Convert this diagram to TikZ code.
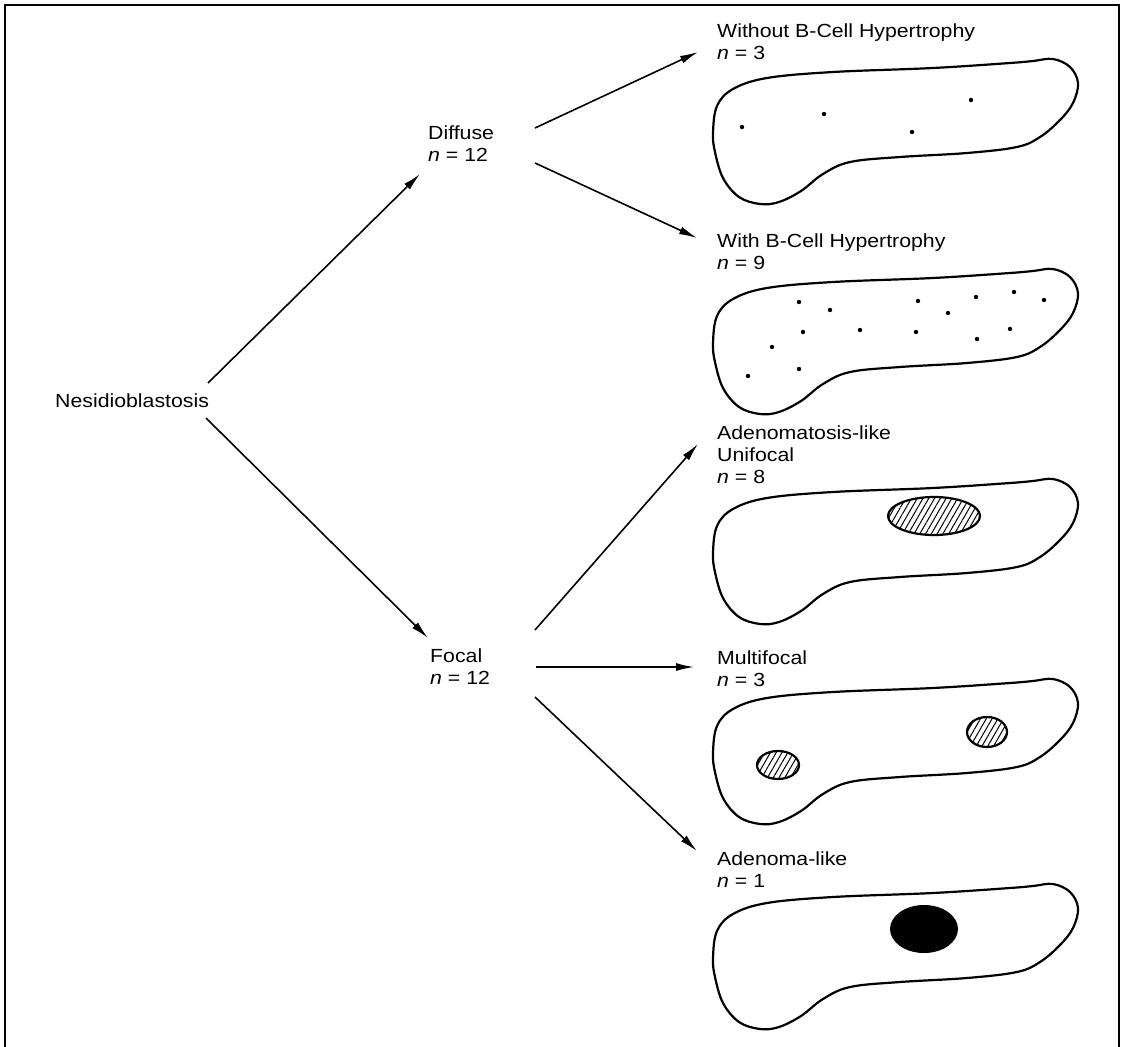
\documentclass[tikz,border=0pt]{standalone}
\usepackage{fontspec}
\setmainfont{Liberation Sans}[FakeStretch=1.12]
\usetikzlibrary{arrows.meta,patterns.meta}

\tikzset{
  lbl/.style={anchor=north west, inner sep=0pt, align=left,
              font=\fontsize{19}{22}\selectfont},
  arr/.style={line width=1.6pt, -{Latex[length=18pt,width=8pt]}},
  organ/.style={line width=2.2pt},
  frame/.style={line width=2pt},
  hatch/.style={organ, fill=white,
    pattern={Lines[angle=60,distance=5pt,line width=1pt]}},
  islet/.style={fill=black},
  pancreas/.pic={
    \draw[organ] plot[smooth cycle, tension=0.6] coordinates {
      (0,73) (4,46) (20,29) (54,18) (120,12) (220,8) (297,3)
      (320,1) (340,-1) (357,7) (365,23) (360,43) (347,60) (327,77)
      (304,87) (254,93) (187,97) (137,102) (110,114) (88,131)
      (66,142) (47,144) (26,137) (10,118) (2,92)};
  }
}

\begin{document}
\begin{tikzpicture}[x=1pt,y=-1pt]
\useasboundingbox (0,0) rectangle (1122,1047);

% open frame: top, left and right sides
\draw[frame] (5,1047) -- (5,5) -- (1119,5) -- (1119,1047);

% labels
\node[lbl] (nes) at (55,394) {Nesidioblastosis};
\node[lbl] (dif) at (428,126) {Diffuse\\{\itshape n} = 12};
\node[lbl] (foc) at (430,649) {Focal\\{\itshape n} = 12};
\node[lbl] (wo)  at (717,24)  {Without B-Cell Hypertrophy\\{\itshape n} = 3};
\node[lbl] (wi)  at (717,234) {With B-Cell Hypertrophy\\{\itshape n} = 9};
\node[lbl] (uni) at (717,426) {Adenomatosis-like\\Unifocal\\{\itshape n} = 8};
\node[lbl] (mul) at (717,651) {Multifocal\\{\itshape n} = 3};
\node[lbl] (ade) at (717,852) {Adenoma-like\\{\itshape n} = 1};

% arrow end points
\coordinate (nesU) at (208,383);
\coordinate (nesD) at (206,418);
\coordinate (difIn) at (420,174);
\coordinate (focIn) at (428,638);
\coordinate (difU) at (535,128);
\coordinate (difD) at (535,163);
\coordinate (focU) at (535,630);
\coordinate (focM) at (536,667);
\coordinate (focD) at (535,697);
\coordinate (woIn) at (698,52);
\coordinate (wiIn) at (697,238);
\coordinate (uniIn) at (698,444);
\coordinate (mulIn) at (694,667);
\coordinate (adeIn) at (697,851);

\draw[arr] (nesU) -- (difIn);
\draw[arr] (nesD) -- (focIn);
\draw[arr] (difU) -- (woIn);
\draw[arr] (difD) -- (wiIn);
\draw[arr] (focU) -- (uniIn);
\draw[arr] (focM) -- (mulIn);
\draw[arr] (focD) -- (adeIn);

% pancreas outlines
\pic at (713,60)  {pancreas};
\pic at (713,270) {pancreas};
\pic at (713,480) {pancreas};
\pic at (713,680) {pancreas};
\pic at (713,885) {pancreas};

% scattered islets, few
\foreach \p in {(742,127),(824,114),(912,132),(971,100)}
  \fill \p circle (2.2pt);

% scattered islets, many
\foreach \p in {(799,302),(830,310),(918,301),(976,297),(1014,292),
                (1044,300),(948,313),(803,332),(860,330),(916,332),
                (1010,329),(977,339),(772,347),(799,369),(748,376)}
  \fill \p circle (2.2pt);

% unifocal lesion
\draw[hatch] (934,516) ellipse [x radius=46, y radius=19];

% multifocal lesions
\draw[hatch] (778,765) ellipse [x radius=21, y radius=14];
\draw[hatch] (987,732) ellipse [x radius=20, y radius=15];

% adenoma
\fill[islet] (924,929) ellipse [x radius=34, y radius=24];
\end{tikzpicture}
\end{document}
